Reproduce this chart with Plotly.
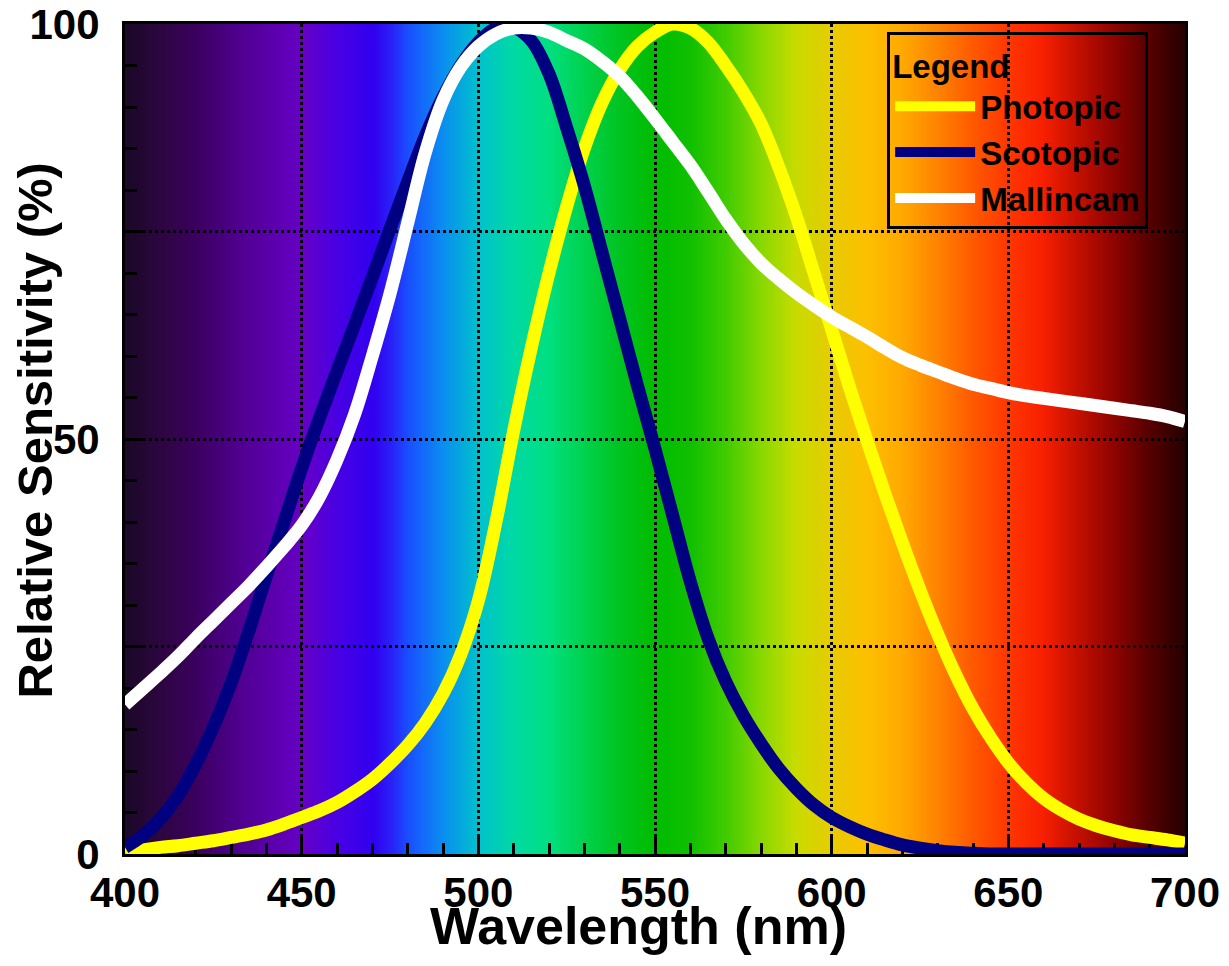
import base64
import struct
import zlib

import numpy as np
import plotly.graph_objects as go

# ---------------- data ----------------
wavelength_nm = [400, 405, 410, 415, 420, 425, 430, 435, 440, 445,
                 450, 455, 460, 465, 470, 475, 480, 485, 490, 495,
                 500, 505, 510, 515, 520, 525, 530, 535, 540, 545,
                 550, 555, 560, 565, 570, 575, 580, 585, 590, 595,
                 600, 605, 610, 615, 620, 625, 630, 635, 640, 645,
                 650, 655, 660, 665, 670, 675, 680, 685, 690, 695, 700]

photopic_pct = [0.3, 0.5, 0.8, 1.0, 1.3, 1.6, 2.0, 2.4, 2.9, 3.6,
                4.4, 5.2, 6.2, 7.5, 9.0, 10.9, 13.1, 15.8, 19.3, 24.0,
                30.5, 40.0, 51.0, 61.0, 70.0, 78.0, 85.0, 90.5, 94.5, 97.3,
                99.0, 100.0, 99.5, 97.8, 95.0, 91.8, 88.0, 82.8, 76.8, 70.0,
                63.2, 56.3, 49.8, 43.5, 37.5, 31.8, 26.5, 21.7, 17.5, 14.0,
                11.0, 8.6, 6.7, 5.3, 4.2, 3.4, 2.8, 2.3, 2.0, 1.7, 1.3]

scotopic_pct = [0.8, 2.2, 4.2, 7.0, 10.8, 15.3, 20.6, 26.8, 33.5, 40.0,
                46.5, 52.5, 58.2, 63.8, 69.5, 75.3, 81.0, 86.5, 91.2, 95.0,
                97.8, 99.5, 99.6, 98.0, 94.0, 87.5, 80.5, 72.5, 64.5, 56.5,
                48.8, 40.8, 32.8, 26.0, 20.8, 16.7, 13.3, 10.3, 7.9, 5.9,
                4.4, 3.3, 2.4, 1.7, 1.1, 0.7, 0.4, 0.2, 0.1, 0.0,
                0.0, 0.0, 0.0, 0.0, 0.0, 0.0, 0.0, 0.0, 0.0, 0.0, 0.0]

mallincam_pct = [18.0, 19.9, 21.8, 23.8, 26.0, 28.1, 30.2, 32.3, 34.6, 37.0,
                 39.6, 43.0, 47.5, 53.0, 60.0, 67.5, 76.0, 84.5, 90.8, 94.8,
                 97.3, 98.8, 99.5, 99.5, 99.0, 98.0, 97.0, 95.5, 93.7, 91.3,
                 88.6, 85.8, 83.0, 79.8, 76.5, 73.6, 71.2, 69.3, 67.6, 66.1,
                 64.7, 63.5, 62.3, 61.0, 59.8, 58.9, 58.1, 57.3, 56.6, 56.1,
                 55.6, 55.2, 54.9, 54.6, 54.3, 54.0, 53.7, 53.4, 53.1, 52.7, 52.1]

series_names = ["Photopic", "Scotopic", "Mallincam"]
series_colors = ["#ffff00", "#000080", "#ffffff"]

x_tick_values = [400, 450, 500, 550, 600, 650, 700]
y_tick_values = [0, 25, 50, 75, 100]
y_tick_labels = ["0", "", "50", "", "100"]

# background spectrum colour stops
gradient_wavelengths = [400, 410, 420, 430, 440, 450, 460, 470, 475, 480, 490, 500,
                        510, 520, 530, 540, 550, 560, 570, 580, 590, 600,
                        610, 620, 630, 640, 650, 660, 670, 680, 690, 700]
gradient_colors = ["#1c0828", "#2e0642", "#3c0060", "#4c0088", "#5a00a8", "#6600c6",
                   "#4800e4", "#3200f0", "#2a20f8", "#1a50ff", "#0a90f0", "#00c2cc",
                   "#00daa4", "#00e080", "#00d24e", "#00c420", "#00bc00", "#10c000",
                   "#40cc00", "#88d800", "#c8dc00", "#e8cc00",
                   "#fdc000", "#ffaa00", "#ff8400", "#ff5a00", "#ff3800", "#f82000",
                   "#c41000", "#900400", "#580000", "#280000"]

FONT = "Liberation Sans, Arial, sans-serif"


# ---------------- background gradient as a tiny PNG ----------------
def hex_to_rgb(h):
    h = h.lstrip("#")
    return [int(h[i:i + 2], 16) for i in (0, 2, 4)]


def gradient_png(stops_x, stops_c, x0, x1):
    rgb = np.array([hex_to_rgb(c) for c in stops_c], dtype=float)
    xs = np.arange(x0, x1 + 1)
    cols = np.stack([np.interp(xs, stops_x, rgb[:, k]) for k in range(3)], axis=1)
    cols = np.clip(np.round(cols), 0, 255).astype(np.uint8)
    w, h = len(xs), 4
    raw = b"".join(b"\x00" + cols.tobytes() for _ in range(h))

    def chunk(tag, data):
        c = struct.pack(">I", len(data)) + tag + data
        return c + struct.pack(">I", zlib.crc32(tag + data) & 0xFFFFFFFF)

    png = b"\x89PNG\r\n\x1a\n"
    png += chunk(b"IHDR", struct.pack(">IIBBBBB", w, h, 8, 2, 0, 0, 0))
    png += chunk(b"IDAT", zlib.compress(raw, 9))
    png += chunk(b"IEND", b"")
    return "data:image/png;base64," + base64.b64encode(png).decode()


bg_src = gradient_png(gradient_wavelengths, gradient_colors, 400, 700)

# ---------------- figure ----------------
fig = go.Figure()
for name, vals, col in zip(series_names, [photopic_pct, scotopic_pct, mallincam_pct], series_colors):
    fig.add_trace(go.Scatter(
        x=wavelength_nm, y=vals, name=name, mode="lines",
        line=dict(color=col, width=13, shape="spline", smoothing=1.0),
        hoverinfo="x+y+name",
    ))

fig.add_layout_image(
    source=bg_src, xref="x", yref="y", x=400, y=100, sizex=300, sizey=100,
    xanchor="left", yanchor="top", sizing="stretch", layer="below",
)

axis_common = dict(
    showline=True, linecolor="black", linewidth=3, mirror=True,
    ticks="inside", tickcolor="black", tickwidth=3,
    showgrid=True, gridcolor="black", gridwidth=3, griddash="dot",
    zeroline=False, layer="below traces", automargin=False,
    ticklabeloverflow="allow",
    tickfont=dict(family=FONT, size=42, color="black", weight="bold"),
)

fig.update_xaxes(
    **axis_common,
    range=[400, 700], tickmode="array", tickvals=x_tick_values,
    ticklen=19, ticklabelstandoff=0,
    minor=dict(tickmode="linear", tick0=400, dtick=10, ticks="inside",
               ticklen=11, tickwidth=3, tickcolor="black", showgrid=False),
)
fig.update_yaxes(
    **axis_common,
    range=[0, 100], tickmode="array", tickvals=y_tick_values, ticktext=y_tick_labels,
    ticklen=20, ticklabelstandoff=14,
    minor=dict(tickmode="linear", tick0=0, dtick=5, ticks="inside",
               ticklen=12, tickwidth=3, tickcolor="black", showgrid=False),
)

fig.add_annotation(
    text="Wavelength (nm)", xref="paper", yref="paper", x=0.484, y=-0.087,
    xanchor="center", yanchor="middle", showarrow=False,
    font=dict(family=FONT, size=52, color="black", weight="bold"),
)
fig.add_annotation(
    text="Relative Sensitivity (%)", xref="paper", yref="paper", x=-0.085, y=0.51,
    xanchor="center", yanchor="middle", showarrow=False, textangle=-90,
    font=dict(family=FONT, size=49, color="black", weight="bold"),
)

fig.update_layout(
    width=1221, height=958,
    margin=dict(l=117, r=44, t=16, b=112, autoexpand=False),
    paper_bgcolor="white", plot_bgcolor="black",
    showlegend=True,
    legend=dict(
        title=dict(text="Legend", font=dict(family=FONT, size=33, color="black", weight="bold")),
        font=dict(family=FONT, size=33, color="black", weight="bold"),
        x=0.719, y=0.99, xanchor="left", yanchor="top",
        bgcolor="rgba(0,0,0,0)", bordercolor="black", borderwidth=3,
        itemwidth=80, tracegroupgap=0,
    ),
)

fig.write_html("out.html")
